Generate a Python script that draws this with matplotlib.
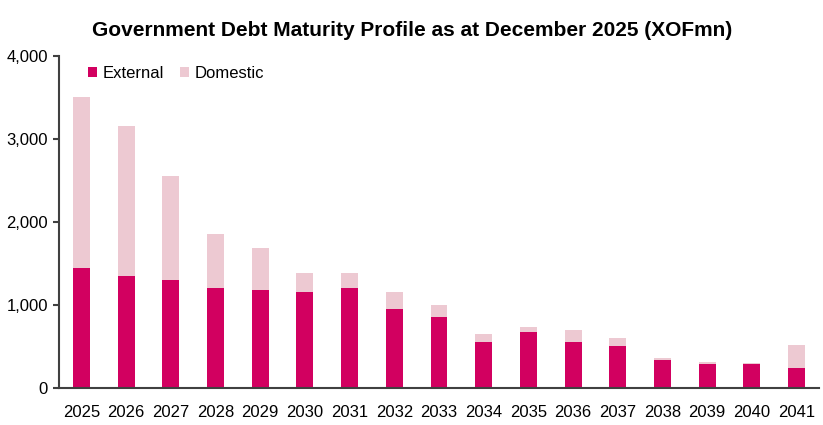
import matplotlib

matplotlib.use("Agg")

import matplotlib.pyplot as plt
import numpy as np
from matplotlib.ticker import FuncFormatter

years = ["2025", "2026", "2027", "2028", "2029", "2030", "2031", "2032", "2033",
         "2034", "2035", "2036", "2037", "2038", "2039", "2040", "2041"]
external = [1450, 1350, 1300, 1200, 1175, 1150, 1200, 950, 850,
            550, 680, 550, 500, 340, 292, 292, 245]
domestic = [2050, 1800, 1250, 650, 505, 240, 190, 200, 150,
            100, 50, 150, 100, 24, 24, 13, 276]

ext_color = "#D20060"
dom_color = "#EDC9D2"
axis_color = "#404040"

plt.rcParams["font.family"] = ["Liberation Sans", "DejaVu Sans"]

fig = plt.figure(figsize=(8.23, 4.25), dpi=100)
ax = fig.add_axes([59 / 823, 1 - 388 / 425, 760 / 823, (388 - 55.7) / 425])

x = np.arange(len(years))
ax.bar(x, external, width=0.38, color=ext_color, label="External")
ax.bar(x, domestic, width=0.38, bottom=external, color=dom_color, label="Domestic")

ax.set_xlim(-0.5, len(years) - 0.5)
ax.set_ylim(0, 4000)
ax.set_yticks([0, 1000, 2000, 3000, 4000])
ax.yaxis.set_major_formatter(FuncFormatter(lambda v, _: f"{int(v):,}"))
ax.set_xticks(x)
ax.set_xticklabels(years)

for side in ("top", "right"):
    ax.spines[side].set_visible(False)
for side in ("left", "bottom"):
    ax.spines[side].set_color(axis_color)
    ax.spines[side].set_linewidth(1.5)
ax.tick_params(axis="x", length=0, labelsize=12, pad=12)
ax.tick_params(axis="y", length=4, width=1.5, color=axis_color, labelsize=12, pad=4)

ax.legend(loc="upper left", bbox_to_anchor=(0.025, 1.0), ncol=2, frameon=False,
          fontsize=12, handlelength=0.55, handleheight=0.55, handletextpad=0.3,
          columnspacing=1.0, borderaxespad=0.2)

fig.text(412 / 823, 1 - 30 / 425, "Government Debt Maturity Profile as at December 2025 (XOFmn)",
         ha="center", va="center", fontsize=15, fontweight="bold")

fig.savefig("out.png", dpi=100, facecolor="white")
plt.close(fig)
